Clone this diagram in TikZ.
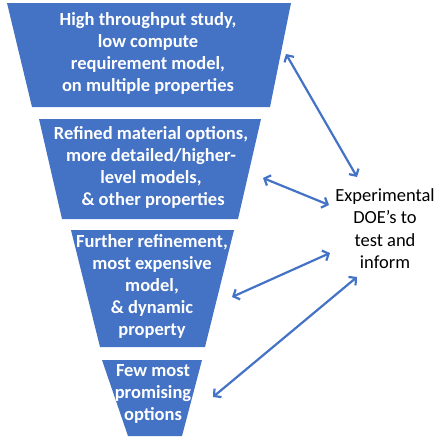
\documentclass[tikz,border=0pt]{standalone}
\usepackage{fontspec}
\setmainfont{Carlito}
\usetikzlibrary{arrows.meta}
\definecolor{offblue}{HTML}{4472C4}
\begin{document}
\begin{tikzpicture}[x=1pt,y=-1pt,
  funnel/.style={fill=offblue,draw=none},
  ftext/.style={text=white,font=\fontsize{18.5}{22}\selectfont\bfseries,align=center,inner sep=0pt},
  dtext/.style={text=black,font=\fontsize{18.5}{22.5}\selectfont,align=center,inner sep=0pt},
  link/.style={draw=offblue,line width=2.2pt,{Straight Barb[length=5pt,width=11pt,line width=2.2pt]}-{Straight Barb[length=5pt,width=11pt,line width=2.2pt]}}]
\useasboundingbox (0,0) rectangle (441,439);
\fill[white] (0,0) rectangle (441,439);
% funnel stages
\path[funnel] (7,3) -- (291,3) -- (270,107) -- (32,107) -- cycle;
\path[funnel] (39,119) -- (261,119) -- (238,219) -- (62,219) -- cycle;
\path[funnel] (71,230) -- (234,230) -- (205,347) -- (100,347) -- cycle;
\path[funnel] (102,360) -- (202,360) -- (182,436) -- (128,436) -- cycle;
% texts
\node[ftext] (s1) at (148,53) {High throughput study,\\low compute\\requirement model,\\on multiple properties};
\node[ftext] (s2) at (151,167) {Refined material options,\\more detailed/higher-\\level models,\\\ \& other properties};
\node[ftext] (s3) at (152,286) {Further refinement,\\most expensive\\model,\\\& dynamic\\property};
\node[ftext] (s4) at (153,394) {Few most\\promising\\options};
\node[dtext] (doe) at (385,228.5) {Experimental\\DOE’s to\\test and\\inform};
% connector end points
\coordinate (a1) at (286,54);
\coordinate (b1) at (357,177);
\coordinate (a2) at (263,178);
\coordinate (b2) at (329,205);
\coordinate (a3) at (232,297);
\coordinate (b3) at (330,253);
\coordinate (a4) at (213,397);
\coordinate (b4) at (357,277);
\draw[link] (a1) -- (b1);
\draw[link] (a2) -- (b2);
\draw[link] (a3) -- (b3);
\draw[link] (a4) -- (b4);
\end{tikzpicture}
\end{document}
